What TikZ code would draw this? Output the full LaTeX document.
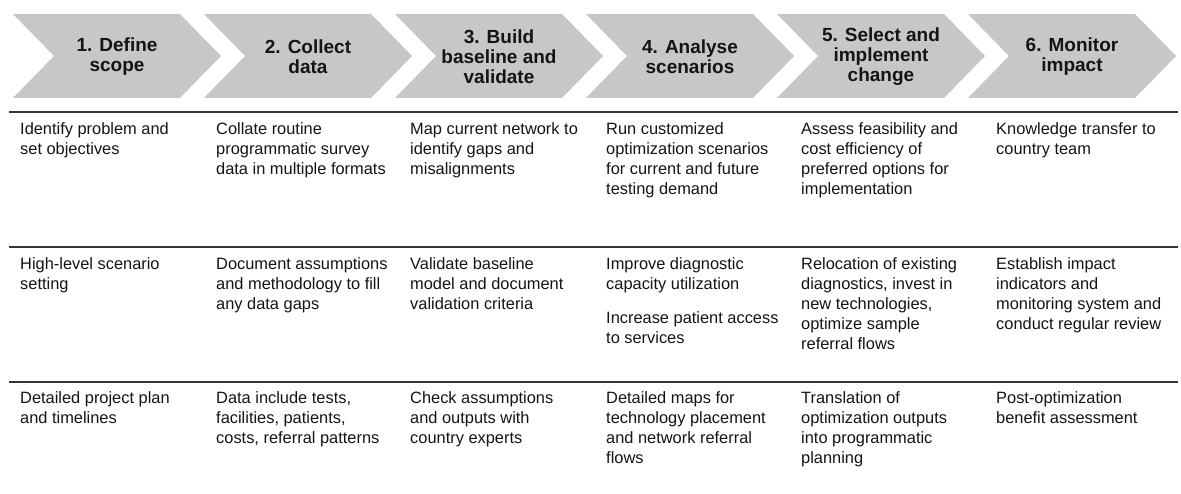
\documentclass[tikz,border=0pt]{standalone}
\usepackage{fontspec}
\setmainfont{Liberation Sans}
\definecolor{chevfill}{RGB}{199,199,199}
\definecolor{rulecol}{RGB}{55,55,55}
\definecolor{textcol}{RGB}{20,20,20}
\begin{document}
\begin{tikzpicture}[x=1pt,y=-1pt,
  chevron/.style={fill=chevfill,draw=none},
  steptitle/.style={font=\bfseries\fontsize{19}{20}\selectfont,align=center,text=textcol,inner sep=0pt},
  cell/.style={font=\fontsize{16.4}{20}\selectfont,align=left,anchor=north west,inner sep=0pt,text=textcol},
  rowrule/.style={line width=2.5pt,draw=rulecol}]
\useasboundingbox (0,0) rectangle (1181,494);

% process chevrons
\foreach \i in {0,...,5}{
  \pgfmathsetmacro{\xo}{13+191*\i}
  \fill[chevron] (\xo,14) -- (\xo+167,14) -- (\xo+208,56) -- (\xo+167,98)
    -- (\xo,98) -- (\xo+41,56) -- cycle;
}

% step titles
\node[steptitle] (t1) at (117,57) {1. Define\\scope};
\node[steptitle] (t2) at (308,57) {2. Collect\\data};
\node[steptitle] (t3) at (499,57) {3. Build\\baseline and\\validate};
\node[steptitle] (t4) at (690,57) {4. Analyse\\scenarios};
\node[steptitle] (t5) at (881,57) {5. Select and\\implement\\change};
\node[steptitle] (t6) at (1072,57) {6. Monitor\\impact};

% row separators
\draw[rowrule] (9,112) -- (1178,112);
\draw[rowrule] (9,247) -- (1178,247);
\draw[rowrule] (9,382) -- (1178,382);

% first row
\node[cell] (a1) at (20,120)  {\strut Identify problem and\\set objectives};
\node[cell] (a2) at (216,120) {\strut Collate routine\\programmatic survey\\data in multiple formats};
\node[cell] (a3) at (410,120) {\strut Map current network to\\identify gaps and\\misalignments};
\node[cell] (a4) at (606,120) {\strut Run customized\\optimization scenarios\\for current and future\\testing demand};
\node[cell] (a5) at (801,120) {\strut Assess feasibility and\\cost efficiency of\\preferred options for\\implementation};
\node[cell] (a6) at (996,120) {\strut Knowledge transfer to\\country team};

% second row
\node[cell] (b1) at (20,255)  {\strut High-level scenario\\setting};
\node[cell] (b2) at (216,255) {\strut Document assumptions\\and methodology to fill\\any data gaps};
\node[cell] (b3) at (410,255) {\strut Validate baseline\\model and document\\validation criteria};
\node[cell] (b4) at (606,255) {\strut Improve diagnostic\\capacity utilization\\[14pt]Increase patient access\\to services};
\node[cell] (b5) at (801,255) {\strut Relocation of existing\\diagnostics, invest in\\new technologies,\\optimize sample\\referral flows};
\node[cell] (b6) at (996,255) {\strut Establish impact\\indicators and\\monitoring system and\\conduct regular review};

% third row
\node[cell] (c1) at (20,389)  {\strut Detailed project plan\\and timelines};
\node[cell] (c2) at (216,389) {\strut Data include tests,\\facilities, patients,\\costs, referral patterns};
\node[cell] (c3) at (410,389) {\strut Check assumptions\\and outputs with\\country experts};
\node[cell] (c4) at (606,389) {\strut Detailed maps for\\technology placement\\and network referral\\flows};
\node[cell] (c5) at (801,389) {\strut Translation of\\optimization outputs\\into programmatic\\planning};
\node[cell] (c6) at (996,389) {\strut Post-optimization\\benefit assessment};
\end{tikzpicture}
\end{document}
